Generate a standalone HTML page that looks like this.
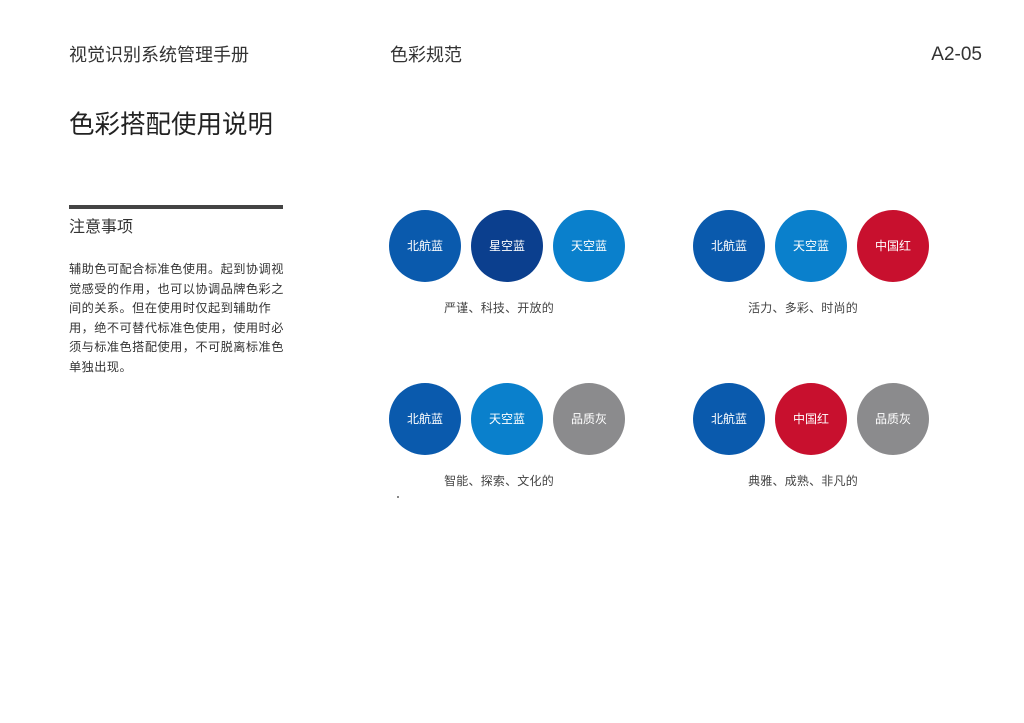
<!DOCTYPE html>
<html><head><meta charset="utf-8"><style>
body{margin:0;width:1024px;height:723px;background:#fff;position:relative;overflow:hidden;font-family:"Liberation Sans","Noto Sans CJK SC",sans-serif;color:#333}
.a{position:absolute;white-space:nowrap}
.c{position:absolute;width:72px;height:72px;border-radius:50%;color:#fff;font-size:12px;line-height:72px;text-align:center}
.l{position:absolute;width:200px;text-align:center;font-size:12px;color:#444;letter-spacing:0.2px}
.b1{background:#0a5aad}.b2{background:#0b3f8e}.b3{background:#0a80cc}.r{background:#c8102e}.g{background:#8b8b8d}
</style></head><body>
<div class="a" style="left:69px;top:43px;font-size:18px;line-height:24px">视觉识别系统管理手册</div>
<div class="a" style="left:390px;top:43px;font-size:18px;line-height:24px">色彩规范</div>
<div class="a" style="right:42px;top:43px;font-size:19px;line-height:24px">A2-05</div>
<div class="a" style="left:69px;top:110px;font-size:25.5px;line-height:30px;color:#222">色彩搭配使用说明</div>
<div class="a" style="left:69px;top:205px;width:214px;height:4px;background:#444"></div>
<div class="a" style="left:69px;top:217px;font-size:16px;line-height:22px">注意事项</div>
<div class="a" style="left:69px;top:260px;width:222px;font-size:12.2px;line-height:19.5px;letter-spacing:0.45px;white-space:normal;color:#333">辅助色可配合标准色使用。起到协调视觉感受的作用，也可以协调品牌色彩之间的关系。但在使用时仅起到辅助作用，绝不可替代标准色使用，使用时必须与标准色搭配使用，不可脱离标准色单独出现。</div>

<div class="c b1" style="left:389px;top:210px">北航蓝</div>
<div class="c b2" style="left:471px;top:210px">星空蓝</div>
<div class="c b3" style="left:553px;top:210px">天空蓝</div>
<div class="l" style="left:399px;top:299px">严谨、科技、开放的</div>

<div class="c b1" style="left:693px;top:210px">北航蓝</div>
<div class="c b3" style="left:775px;top:210px">天空蓝</div>
<div class="c r" style="left:857px;top:210px">中国红</div>
<div class="l" style="left:703px;top:299px">活力、多彩、时尚的</div>

<div class="c b1" style="left:389px;top:383px">北航蓝</div>
<div class="c b3" style="left:471px;top:383px">天空蓝</div>
<div class="c g" style="left:553px;top:383px">品质灰</div>
<div class="l" style="left:399px;top:472px">智能、探索、文化的</div>

<div class="c b1" style="left:693px;top:383px">北航蓝</div>
<div class="c r" style="left:775px;top:383px">中国红</div>
<div class="c g" style="left:857px;top:383px">品质灰</div>
<div class="l" style="left:703px;top:472px">典雅、成熟、非凡的</div>
<div class="a" style="left:397px;top:496px;width:2px;height:2px;background:#888"></div>
</body></html>
